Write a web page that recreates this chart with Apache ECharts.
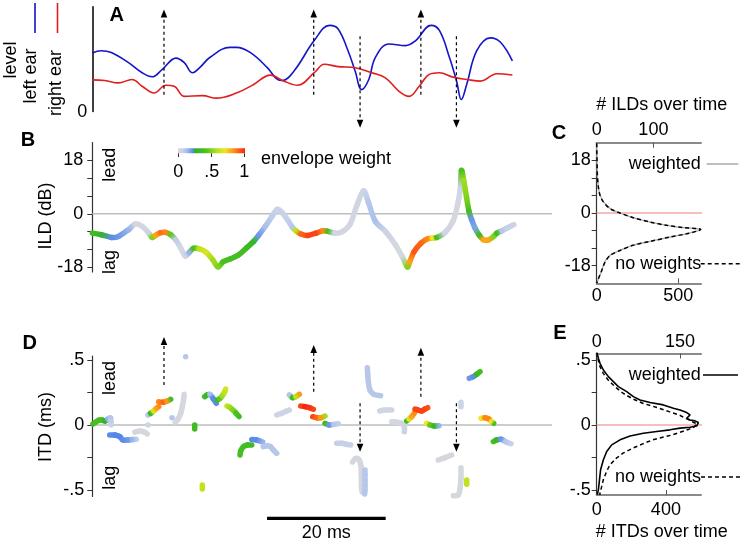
<!DOCTYPE html>
<html><head><meta charset="utf-8">
<script src="https://cdn.jsdelivr.net/npm/echarts@6.0.0/dist/echarts.min.js"></script>
<style>html,body{margin:0;padding:0;background:#fff}#c{width:742px;height:544px}</style>
</head><body><div id="c"></div>
<script>
// ---------- DATA ----------
// Panel A: sound level at each ear (time in ms, level in arbitrary units)
const blueT = [0,1.5,3.2,6.1,8.4,10.1,11.8,14.1,15.5,16.9,18.1,19.8,23.2,24.3,26.6,29.5,31.2,32.0,34.0,37.4,40.0,41.4,43.1,44.3,45.4,46.6,47.7,50.0,52.8,54.5,57.1,58.5,60.2,61.4,62.2,63.1,64.8,67.1,68.8,70.8];
const levelLeft = [57.7,60,58.3,48.3,38.3,34.3,41.7,52.7,48.3,38.3,43.3,53.3,63.3,63.3,58.3,43.3,31.7,30.7,40,70,85,81.7,60,40,21.7,31.7,53.3,66.7,65,70,85,80,53.3,30,12,26.7,60,72.7,68.3,50];
const redT = [0,2.1,4.4,6.7,8.4,10.4,12.4,13.8,15.5,18.6,20.9,24.3,27.2,30.0,32.3,34.6,37.4,39.1,41.4,44.3,47.1,49.4,51.7,53.4,55.1,56.8,58.5,60.8,63.1,65.4,68.2,70.8];
const levelRight = [31.3,30.7,28.3,31.7,25,18.3,26,25,15,15.7,13.3,18.3,26.7,36,30,26,38.3,46.7,44.3,43.3,38.3,33.3,20,15,25,36.7,38.3,34,31.7,30,37.3,36];
// arrows: [time, from, to]
const arrowsA = [[12.08,16.7,100.7],[37.32,16.7,100.7],[55.38,16.7,100.7],[45.13,74.3,-16],[61.37,74.3,-16]];
const arrowsD = [[12.08,0.308,0.677],[37.32,0.256,0.615],[55.38,0.218,0.595],[45.13,0.167,-0.205],[61.37,0.167,-0.205]];

// Panel B: ILD over time with envelope weight
const ildTime = [0,1.54,3.25,4.39,6.1,7.24,8.38,9.52,10.09,10.66,11.51,12.36,13.22,14.07,14.93,15.67,16.35,17.04,18.06,19.2,20.34,21.2,22.05,23.19,24.62,26.04,27.18,28.03,29.17,30.31,31.17,32.02,32.88,33.73,34.3,35.16,36.3,37.72,38.86,39.72,40.85,41.99,43.42,44.56,45.7,46.55,47.69,49.4,51.11,52.25,53.1,53.5,54.24,55.38,56.52,57.38,58.06,59.37,60.8,61.65,62.05,62.22,62.62,63.08,63.48,63.93,64.5,65.24,65.93,66.78,67.64,68.21,69.06,69.91,71.05];
const ildValue = [-6.5,-7.06,-7.97,-7.63,-5.35,-3.42,-4.21,-6.49,-7.97,-7.29,-6.38,-6.26,-7.06,-8.77,-11.62,-14.24,-12.98,-11.62,-11.85,-12.98,-15.6,-17.88,-16.17,-15.26,-13.9,-11.39,-9.34,-7.29,-4.21,-0.8,1.48,0.34,-1.94,-4.56,-5.69,-6.83,-7.29,-6.49,-5.69,-5.92,-6.49,-6.15,-3.64,2.62,7.74,3.76,-2.51,-5.92,-10.48,-14.46,-17.88,-16.17,-12.76,-9.91,-8.43,-8.2,-7.97,-6.49,-2.51,3.76,8.88,14.58,11.16,5.47,0.91,-1.94,-4.78,-7.29,-8.77,-8.77,-7.63,-6.49,-5.69,-4.78,-3.64];
const ildWeight = [.35,.28,.22,.2,.15,.03,.02,.05,.5,.8,.88,.85,.45,.08,.02,.04,.15,.4,.6,.65,.55,.5,.4,.38,.38,.35,.3,.2,.12,.08,.06,.06,.07,.1,.6,.9,.95,.95,.85,.4,.04,.03,.03,.03,.05,.1,.12,.05,.02,.02,.5,.8,.92,.9,.85,.7,.38,.05,.02,.02,.05,.4,.55,.5,.38,.2,.18,.35,.8,.8,.5,.35,.1,.07,.05];

// Panel C: ILD histograms
const cIld = [23.8,13.5,8.9,6.1,3.8,1.5,0,-1.6,-3.1,-4.2,-5.0,-5.3,-5.6,-6.2,-7.1,-8.2,-9.7,-11.0,-12.8,-14.5,-16.8,-19.6,-22.5,-24];
const cNoWeights = [0,4,10,20,41,82,143,224,327,429,531,613,638,613,551,449,327,224,143,82,51,31,10,0];
const cWeighted = [0,1,3,6,12,24,41,64,94,124,153,176,183,176,158,129,94,64,41,23,14,9,3,0];

// Panel D: ITD streaks, each [time, itd, weight]
const itdStreaks = [
 [[0.12,0.008,.35],[0.62,0.023,.4],[1.13,0.038,.4],[1.63,0.038,.38],[2.14,0.031,.25],[2.65,0.046,.15],[3.07,0.054,.1],[3.15,0.023,.08],[3.15,0.0,.05]],
 [[2.93,-0.077,.22],[3.78,-0.077,.23],[4.62,-0.09,.23],[5.17,-0.115,.22],[6.02,-0.115,.2],[6.8,-0.112,.15],[7.42,-0.11,.08]],
 [[7.15,-0.056,.02],[7.99,-0.046,.02],[8.83,-0.056,.02],[9.27,-0.069,.02]],
 [[9.39,0.0,.04]],
 [[9.39,0.077,.1],[9.84,0.09,.35],[10.35,0.108,.65],[10.79,0.128,.8],[11.19,0.141,.85]],
 [[11.19,0.179,.85],[11.92,0.175,.9],[12.64,0.185,.82],[13.21,0.198,.35]],
 [[13.43,0.056,.1]],
 [[13.99,0.021,.02],[14.44,0.046,.02],[14.9,0.09,.02],[15.17,0.141,.02],[15.41,0.205,.02],[15.46,0.236,.02]],
 [[15.74,0.525,.1]],
 [[17.26,0.0,.35],[17.26,-0.031,.35]],
 [[18.54,-0.462,.6],[18.54,-0.492,.6]],
 [[18.94,0.218,.35],[19.33,0.231,.3],[19.84,0.236,.12],[20.34,0.205,.22],[20.9,0.167,.22]],
 [[21.07,0.192,.35],[21.52,0.205,.45],[21.91,0.225,.55],[22.32,0.256,.6],[22.48,0.277,.65]],
 [[22.7,0.146,.6],[23.21,0.135,.55],[23.71,0.115,.5],[24.22,0.092,.42],[24.73,0.065,.36]],
 [[24.9,-0.231,.38],[25.01,-0.2,.38],[25.45,-0.167,.38],[26.13,-0.154,.37],[26.87,-0.154,.35]],
 [[26.87,-0.112,.22],[27.7,-0.115,.22],[28.72,-0.131,.15]],
 [[28.82,-0.167,.1],[29.5,-0.159,.1],[30.07,-0.167,.1],[30.51,-0.192,.1],[31.08,-0.218,.1]],
 [[31.08,0.077,.05],[31.92,0.09,.05],[32.77,0.108,.05],[33.2,0.115,.05]],
 [[33.2,0.231,.1],[33.78,0.21,.35],[34.33,0.218,.6],[34.89,0.236,.82]],
 [[35.13,0.146,.95],[35.85,0.141,1],[36.58,0.133,.98],[37.25,0.121,.95]],
 [[37.15,0.064,.95],[37.82,0.056,.9],[38.5,0.056,.82],[39.22,0.069,.55]],
 [[39.22,0.013,.35],[39.95,0.0,.2],[40.74,0.005,.1],[41.46,0.01,.08]],
 [[41.19,-0.141,.07],[42.03,-0.141,.07],[42.88,-0.149,.07],[43.55,-0.154,.07]],
 [[43.86,-0.285,.02],[44.36,-0.258,.02],[44.9,-0.265,.02],[45.29,-0.315,.02],[45.34,-0.385,.02],[45.37,-0.462,.02],[45.46,-0.515,.02]],
 [[45.96,-0.346,.1],[45.96,-0.385,.1],[45.96,-0.423,.1],[45.96,-0.462,.1],[45.96,-0.5,.1],[45.91,-0.531,.1]],
 [[46.35,0.441,.1],[46.42,0.385,.1],[46.52,0.333,.1],[46.8,0.269,.1],[47.47,0.236,.1],[48.6,0.225,.1]],
 [[48.44,0.108,.04],[49.29,0.115,.04],[50.47,0.115,.04]],
 [[50.47,0.025,.03],[51.31,0.021,.03],[52.15,0.013,.03],[52.59,-0.013,.05],[52.59,-0.051,.06]],
 [[52.99,0.031,.35],[53.38,0.046,.65],[53.83,0.064,.8],[54.27,0.09,.85]],
 [[54.39,0.123,.95],[54.95,0.115,.95],[55.52,0.108,.95],[56.08,0.123,.95],[56.53,0.133,.93]],
 [[56.36,0.013,.7],[56.92,0.0,.45],[57.65,-0.008,.3],[58.44,-0.005,.15]],
 [[58.32,-0.269,.02],[59.45,-0.251,.02],[60.58,-0.231,.02]],
 [[62.14,0.175,.05],[62.14,0.141,.05]],
 [[62.14,-0.328,.02],[62.14,-0.41,.02],[61.98,-0.487,.02],[61.69,-0.538,.02],[60.85,-0.544,.02]],
 [[63.11,-0.423,.6],[63.11,-0.456,.6]],
 [[63.54,0.359,.2],[64.22,0.372,.22],[64.79,0.39,.3],[65.35,0.41,.38]],
 [[65.52,0.051,.7],[66.19,0.056,.85],[66.86,0.046,.85],[67.32,0.025,.7],[67.66,0.013,.4]],
 [[67.59,-0.128,.38],[68.16,-0.115,.3],[68.89,-0.11,.2],[69.68,-0.128,.1],[70.57,-0.144,.06]]
];

// Panel E: ITD histograms
const eWeightedItd = [0.564,0.513,0.474,0.423,0.372,0.333,0.295,0.256,0.218,0.192,0.172,0.154,0.128,0.115,0.095,0.077,0.051,0.038,0.031,0.018,0.008,-0.008,-0.018,-0.025,-0.038,-0.051,-0.064,-0.085,-0.115,-0.154,-0.205,-0.269,-0.346,-0.423,-0.5,-0.538];
const eWeighted = [0,3,6,12,21,30,39,54,66,78,96,120,138,150,162,168,162,168,177,183,186,180,168,150,132,108,84,60,42,27,18,12,7,5,3,1];
const eNoWeightItd = [0.564,0.5,0.449,0.397,0.346,0.295,0.244,0.2,0.167,0.136,0.102,0.077,0.051,0.033,0.018,0.008,-0.018,-0.033,-0.051,-0.077,-0.095,-0.115,-0.146,-0.179,-0.218,-0.256,-0.308,-0.359,-0.423,-0.474,-0.515,-0.54];
const eNoWeights = [0,9,19,38,66,105,152,209,266,343,419,476,514,543,561,581,561,533,495,438,381,324,266,209,152,114,76,57,38,29,21,17];

// tick labels
const ildTicks = [-18,-12,-6,0,6,12,18];
const ildLabels = [-18,0,18];
const itdTicks = [-0.5,-0.25,0,0.25,0.5];
const itdLabels = [-0.5,0,0.5];
const scaleBar = [[29.45, 20]]; // start (ms), length (ms)

// ---------- STYLE / HELPERS ----------
const FONT = '"Liberation Sans", Arial, Helvetica, sans-serif';
const FS = 18;
const T_MAX = 77.48;
const cstops = [[0,[218,218,218]],[0.07,[198,209,233]],[0.14,[160,186,236]],[0.23,[82,134,232]],[0.25,[44,178,44]],[0.42,[78,194,30]],[0.58,[182,226,30]],[0.7,[240,230,30]],[0.84,[255,140,20]],[1,[248,36,18]]];
function cmap(w){
  w = Math.max(0, Math.min(1, w));
  for (let i=1;i<cstops.length;i++){
    if (w <= cstops[i][0]){
      const a=cstops[i-1], b=cstops[i]; const f=(w-a[0])/(b[0]-a[0]||1);
      const c=a[1].map((v,k)=>Math.round(v+(b[1][k]-v)*f));
      return 'rgb('+c.join(',')+')';
    }
  }
  return 'rgb('+cstops[cstops.length-1][1].join(',')+')';
}
function itdFmt(v){ if (v===0) return '0'; return (v<0?'-':'')+String(Math.abs(v)).replace(/^0/,''); }

function trailSeries(rows, xi, yi, width){
  return {type:'custom', xAxisIndex:xi, yAxisIndex:yi, clip:false, silent:true, z:3,
    data: rows, encode:{x:0,y:1},
    renderItem(params, api){
      const i=params.dataIndex, r=rows[i], prev=rows[i-1], next=rows[i+1];
      const same=(a,b)=>a&&b&&a[3]===b[3];
      const p=api.coord([r[0],r[1]]);
      if (!same(prev,r)){
        if (!same(r,next)) return {type:'circle', shape:{cx:p[0],cy:p[1],r:width/2}, style:{fill:cmap(r[2])}};
        return {type:'group', children:[]};
      }
      const p1=api.coord([prev[0],prev[1]]);
      const pp=same(rows[i-2],prev)?api.coord([rows[i-2][0],rows[i-2][1]]):p1;
      const pn=same(r,next)?api.coord([next[0],next[1]]):p;
      const c1=[p1[0]+(p[0]-pp[0])/6, p1[1]+(p[1]-pp[1])/6];
      const c2=[p[0]-(pn[0]-p1[0])/6, p[1]-(pn[1]-p1[1])/6];
      const d=Math.hypot(p[0]-p1[0],p[1]-p1[1]);
      const stroke = d<0.5 ? cmap(r[2]) : new echarts.graphic.LinearGradient(p1[0],p1[1],p[0],p[1],[{offset:0,color:cmap(prev[2])},{offset:1,color:cmap(r[2])}],true);
      return {type:'bezierCurve', shape:{x1:p1[0],y1:p1[1],x2:p[0],y2:p[1],cpx1:c1[0],cpy1:c1[1],cpx2:c2[0],cpy2:c2[1]},
        style:{stroke:stroke, lineWidth:width, lineCap:'round', fill:'none'}};
    }};
}
function arrowSeries(rows, xi, yi){
  return {type:'custom', xAxisIndex:xi, yAxisIndex:yi, clip:false, silent:true, z:4,
    data: rows, encode:{x:0,y:[1,2]},
    renderItem(params, api){
      const a=api.coord([api.value(0),api.value(1)]);
      const b=api.coord([api.value(0),api.value(2)]);
      const dir=b[1]<a[1]?-1:1, hl=8, hw=3.3;
      return {type:'group', children:[
        {type:'line', shape:{x1:a[0],y1:a[1],x2:b[0],y2:b[1]-dir*hl}, style:{stroke:'#000',lineWidth:1.2,lineDash:[3,3]}},
        {type:'polygon', shape:{points:[[b[0],b[1]],[b[0]-hw,b[1]-dir*hl],[b[0]+hw,b[1]-dir*hl]]}, style:{fill:'#000'}}
      ]};
    }};
}
const ildRows = ildTime.map((t,i)=>[t, ildValue[i], ildWeight[i], 0]);
const itdRows = [];
itdStreaks.forEach((s,g)=>s.forEach(p=>itdRows.push([p[0],p[1],p[2],g])));

function hiddenX(gi){ return {type:'value', gridIndex:gi, min:0, max:T_MAX, show:false}; }
const lblStyle = {fontFamily:FONT, fontSize:FS, color:'#000'};
function countAxis(gi, pos, max, tickVals, labelVals, margin){
  return {type:'value', gridIndex:gi, position:pos, min:0, max:max,
    axisLine:{show:true, onZero:false, lineStyle:{color:'#8a8a8a', width:2}},
    axisTick:{show:true, inside:true, length:5, customValues:tickVals, lineStyle:{color:'#555'}},
    axisLabel:Object.assign({show:true, margin:margin, customValues:labelVals}, lblStyle),
    splitLine:{show:false}};
}
function valAxisY(gi, min, max, ticks, labels, fmt, margin){
  return {type:'value', gridIndex:gi, min:min, max:max,
    axisLine:{show:true, onZero:false, lineStyle:{color:'#333', width:1.2}},
    axisTick:{show:true, inside:false, length:5, customValues:ticks, lineStyle:{color:'#333'}},
    axisLabel:Object.assign({show:true, margin:margin, customValues:labels, formatter:fmt}, lblStyle),
    splitLine:{show:false}};
}

function T(x,y,text,o){ o=o||{};
  return {type:'text', x:x, y:y, rotation:o.rot?Math.PI/2:0, silent:true,
    style:{text:text, fill:'#000', font:(o.bold?'bold ':'')+(o.size||FS)+'px '+FONT, align:'center', verticalAlign:'middle'}};
}
function L(x1,y1,x2,y2,color,w,dash){
  return {type:'line', silent:true, shape:{x1,y1,x2,y2}, style:{stroke:color, lineWidth:w, lineDash:dash||null}};
}

const cbGrad = new echarts.graphic.LinearGradient(0,0,1,0, cstops.map(s=>({offset:s[0], color:'rgb('+s[1].join(',')+')'})));

const option = {
  animation:false,
  backgroundColor:'#fff',
  grid:[
    {left:92.3, top:6.8, width:459.7, height:104.8},
    {left:92.3, top:142.5, width:459.7, height:129.5},
    {left:596.7, top:142.7, width:104.3, height:140.6},
    {left:92.3, top:356.1, width:459.7, height:140.4},
    {left:596.7, top:353.5, width:104.3, height:141.5}
  ],
  xAxis:[
    hiddenX(0), hiddenX(1),
    countAxis(2,'top',184,[100],[0,100],4),
    countAxis(2,'bottom',639,[500],[0,500],4),
    hiddenX(3),
    countAxis(4,'top',187.7,[150],[0,150],2),
    countAxis(4,'bottom',603,[400],[0,400],6)
  ],
  yAxis:[
    {type:'value', gridIndex:0, min:0, max:103.3, axisLine:{show:true, onZero:false, lineStyle:{color:'#000', width:1.5}},
      axisTick:{show:false}, splitLine:{show:false},
      axisLabel:Object.assign({show:true, margin:5, customValues:[0], padding:[6,0,0,0]}, lblStyle)},
    valAxisY(1,-19.6,24,ildTicks,ildLabels,null,9),
    valAxisY(2,-24,24,ildTicks,ildLabels,null,6),
    valAxisY(3,-0.55,0.53,itdTicks,itdLabels,itdFmt,8),
    valAxisY(4,-0.54,0.55,itdTicks,itdLabels,itdFmt,6)
  ],
  series:[
    {type:'line', name:'left ear', xAxisIndex:0, yAxisIndex:0, data:blueT.map((t,i)=>[t,levelLeft[i]]), smooth:0.4, symbol:'none', lineStyle:{color:'#1414c8', width:1.6}},
    {type:'line', name:'right ear', xAxisIndex:0, yAxisIndex:0, data:redT.map((t,i)=>[t,levelRight[i]]), smooth:0.4, symbol:'none', lineStyle:{color:'#e01e1e', width:1.6}},
    arrowSeries(arrowsA,0,0),
    {type:'line', xAxisIndex:1, yAxisIndex:1, z:1, data:[[0,0],[T_MAX,0]], symbol:'none', silent:true, lineStyle:{color:'#bdbdbd', width:1.5}},
    trailSeries(ildRows,1,1,5.5),
    {type:'line', xAxisIndex:2, yAxisIndex:2, z:1, data:[[0,0],[203,0]], symbol:'none', silent:true, lineStyle:{color:'#f4a8a8', width:1.5}, clip:false},
    {type:'line', name:'weighted', xAxisIndex:2, yAxisIndex:2, data:cWeighted.map((c,i)=>[c,cIld[i]]), smooth:0.3, symbol:'none', lineStyle:{color:'#a8a8a8', width:1.3}},
    {type:'line', name:'no weights', xAxisIndex:3, yAxisIndex:2, data:cNoWeights.map((c,i)=>[c,cIld[i]]), smooth:0.3, symbol:'none', lineStyle:{color:'#000', width:1.5, type:[4,3]}},
    {type:'line', xAxisIndex:4, yAxisIndex:3, z:1, data:[[0,0],[T_MAX,0]], symbol:'none', silent:true, lineStyle:{color:'#bdbdbd', width:1.5}},
    trailSeries(itdRows,4,3,5.5),
    arrowSeries(arrowsD,4,3),
    {type:'custom', xAxisIndex:4, yAxisIndex:3, clip:false, silent:true, data:scaleBar, encode:{x:0},
      renderItem(params, api){
        const a=api.coord([api.value(0),-0.718]), b=api.coord([api.value(0)+api.value(1),-0.718]);
        return {type:'group', children:[
          {type:'line', shape:{x1:a[0],y1:a[1],x2:b[0],y2:b[1]}, style:{stroke:'#000', lineWidth:3.4}},
          {type:'text', x:(a[0]+b[0])/2, y:a[1]+14.5, style:{text:api.value(1)+' ms', fill:'#000', font:FS+'px '+FONT, align:'center', verticalAlign:'middle'}}
        ]};
      }},
    {type:'line', xAxisIndex:5, yAxisIndex:4, z:1, data:[[0,0],[207,0]], symbol:'none', silent:true, lineStyle:{color:'#f4a8a8', width:1.5}, clip:false},
    {type:'line', name:'weighted', xAxisIndex:5, yAxisIndex:4, data:eWeighted.map((c,i)=>[c,eWeightedItd[i]]), symbol:'none', lineStyle:{color:'#000', width:1.6}},
    {type:'line', name:'no weights', xAxisIndex:6, yAxisIndex:4, data:eNoWeights.map((c,i)=>[c,eNoWeightItd[i]]), symbol:'none', lineStyle:{color:'#000', width:1.5, type:[4,3]}}
  ],
  graphic:[
    T(116.6,15.2,'A',{bold:true,size:20}),
    T(11,60,'level',{rot:true}),
    T(31,76,'left ear',{rot:true}),
    T(56,83,'right ear',{rot:true}),
    L(35,3,35,33,'#1414c8',1.6), L(57.5,3,57.5,33,'#e01e1e',1.6),
    T(28,140,'B',{bold:true,size:20}),
    T(45.6,216,'ILD (dB)',{rot:true}),
    T(110,164.7,'lead',{rot:true}), T(110,262,'lag',{rot:true}),
    {type:'rect', silent:true, shape:{x:178,y:148.3,width:67,height:5}, style:{fill:cbGrad}},
    L(178.5,153.3,178.5,157,'#333',1), L(211.5,153.3,211.5,157,'#333',1), L(244.5,153.3,244.5,157,'#333',1),
    T(178.3,172.5,'0'), T(211.7,172.5,'.5'), T(244.3,172.5,'1'),
    T(326,158.7,'envelope weight'),
    T(559,133,'C',{bold:true,size:20}),
    T(661.7,105,'# ILDs over time'),
    T(664.7,164,'weighted'), L(706.7,164,738.3,164,'#a8a8a8',1.3),
    T(658.3,264,'no weights'), L(700.7,263.7,740,263.7,'#000',1.5,[4,3]),
    T(29.6,343.5,'D',{bold:true,size:20}),
    T(45.6,427,'ITD (ms)',{rot:true}),
    T(110,378,'lead',{rot:true}), T(110,477.7,'lag',{rot:true}),
    T(560,333,'E',{bold:true,size:20}),
    T(664.7,375,'weighted'), L(703,375,738,375,'#000',1.6),
    T(658,476.7,'no weights'), L(701,477,740,477,'#000',1.5,[4,3]),
    T(661.7,532.5,'# ITDs over time')
  ]
};
const chart = echarts.init(document.getElementById('c'), null, {renderer:'canvas'});
chart.setOption(option);
</script></body></html>
